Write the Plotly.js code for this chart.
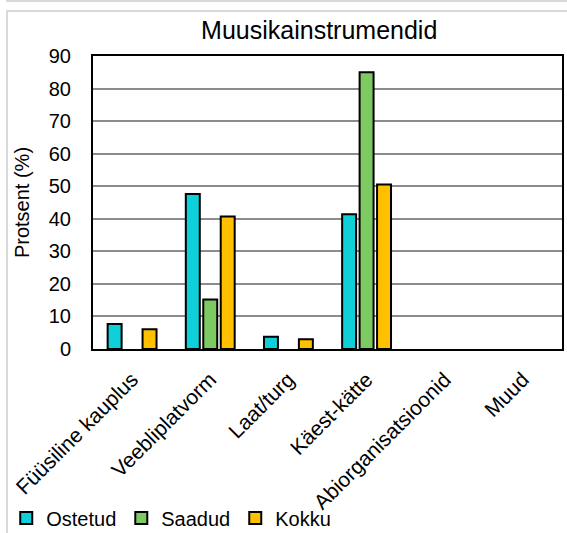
<!DOCTYPE html>
<html>
<head>
<meta charset="utf-8">
<script src="https://cdn.plot.ly/plotly-3.0.1.min.js"></script>
<style>
html, body { margin: 0; padding: 0; background: #ffffff; }
#wrap { position: relative; width: 567px; height: 533px; overflow: hidden; }
#chart { position: absolute; left: 0; top: 0; width: 567px; height: 533px; }
.frame { position: absolute; pointer-events: none; }
#strip { left: 6px; top: 0px; width: 561px; height: 2px; background: #d9d9d9; }
#box { left: 6px; top: 10px; width: 561px; height: 523px; border-left: 2px solid #d9d9d9; border-top: 2px solid #d9d9d9; }
</style>
</head>
<body>
<div id="wrap">
  <div id="chart"></div>
  <div id="strip" class="frame"></div>
  <div id="box" class="frame"></div>
</div>
<script>
// ---- data ----
var categories = ["Füüsiline kauplus", "Veebliplatvorm", "Laat/turg", "Käest-kätte", "Abiorganisatsioonid", "Muud"];
var seriesNames = ["Ostetud", "Saadud", "Kokku"];
var ostetud = [7.7, 47.6, 3.8, 41.4, null, null];
var saadud  = [null, 15.2, null, 85.0, null, null];
var kokku   = [6.1, 40.7, 3.0, 50.5, null, null];
var chartTitle = "Muusikainstrumendid";
var yTitle = "Protsent (%)";

// ---- styles ----
var colors = ["#0FCFD9", "#7DCA62", "#FFC000"];
var font = "Liberation Sans, Arial, sans-serif";
var values = [ostetud, saadud, kokku];

var traces = values.map(function (v, i) {
  return {
    type: "bar",
    name: seriesNames[i],
    x: categories,
    y: v,
    marker: { color: colors[i], line: { color: "#000000", width: 2 } },
    hoverinfo: "x+y+name"
  };
});

var layout = {
  width: 567,
  height: 533,
  paper_bgcolor: "#ffffff",
  plot_bgcolor: "#ffffff",
  margin: { l: 93, r: 5, t: 56, b: 184, pad: 0, autoexpand: false },
  font: { family: font, color: "#000000", size: 20 },
  title: {
    text: chartTitle,
    font: { family: font, size: 25, color: "#000000" },
    x: 0.563, xref: "container", xanchor: "center",
    y: 0.944, yref: "container", yanchor: "middle"
  },
  barmode: "group",
  bargap: 0.33,
  bargroupgap: 0.2,
  showlegend: true,
  legend: {
    orientation: "h",
    x: -0.185, xanchor: "left",
    y: -0.577, yanchor: "middle",
    font: { family: font, size: 20, color: "#000000" },
    itemwidth: 30,
    traceorder: "normal",
    bgcolor: "rgba(0,0,0,0)"
  },
  xaxis: {
    type: "category",
    tickangle: -45,
    automargin: false,
    tickfont: { family: font, size: 21, color: "#000000" },
    showline: true, linecolor: "#000000", linewidth: 2, mirror: true,
    showgrid: false, zeroline: false,
    ticks: "", ticklabelstandoff: 8,
    fixedrange: true
  },
  yaxis: {
    range: [0, 90],
    dtick: 10,
    tick0: 0,
    automargin: false,
    tickfont: { family: font, size: 20, color: "#000000" },
    showline: true, linecolor: "#000000", linewidth: 2, mirror: true,
    showgrid: true, gridcolor: "#8c8c8c", gridwidth: 2,
    zeroline: false,
    ticks: "", ticklabelstandoff: 16,
    title: { text: yTitle, font: { family: font, size: 20, color: "#000000" }, standoff: 14 },
    fixedrange: true
  }
};

Plotly.newPlot("chart", traces, layout, { displayModeBar: false, staticPlot: false, responsive: false });
</script>
</body>
</html>
